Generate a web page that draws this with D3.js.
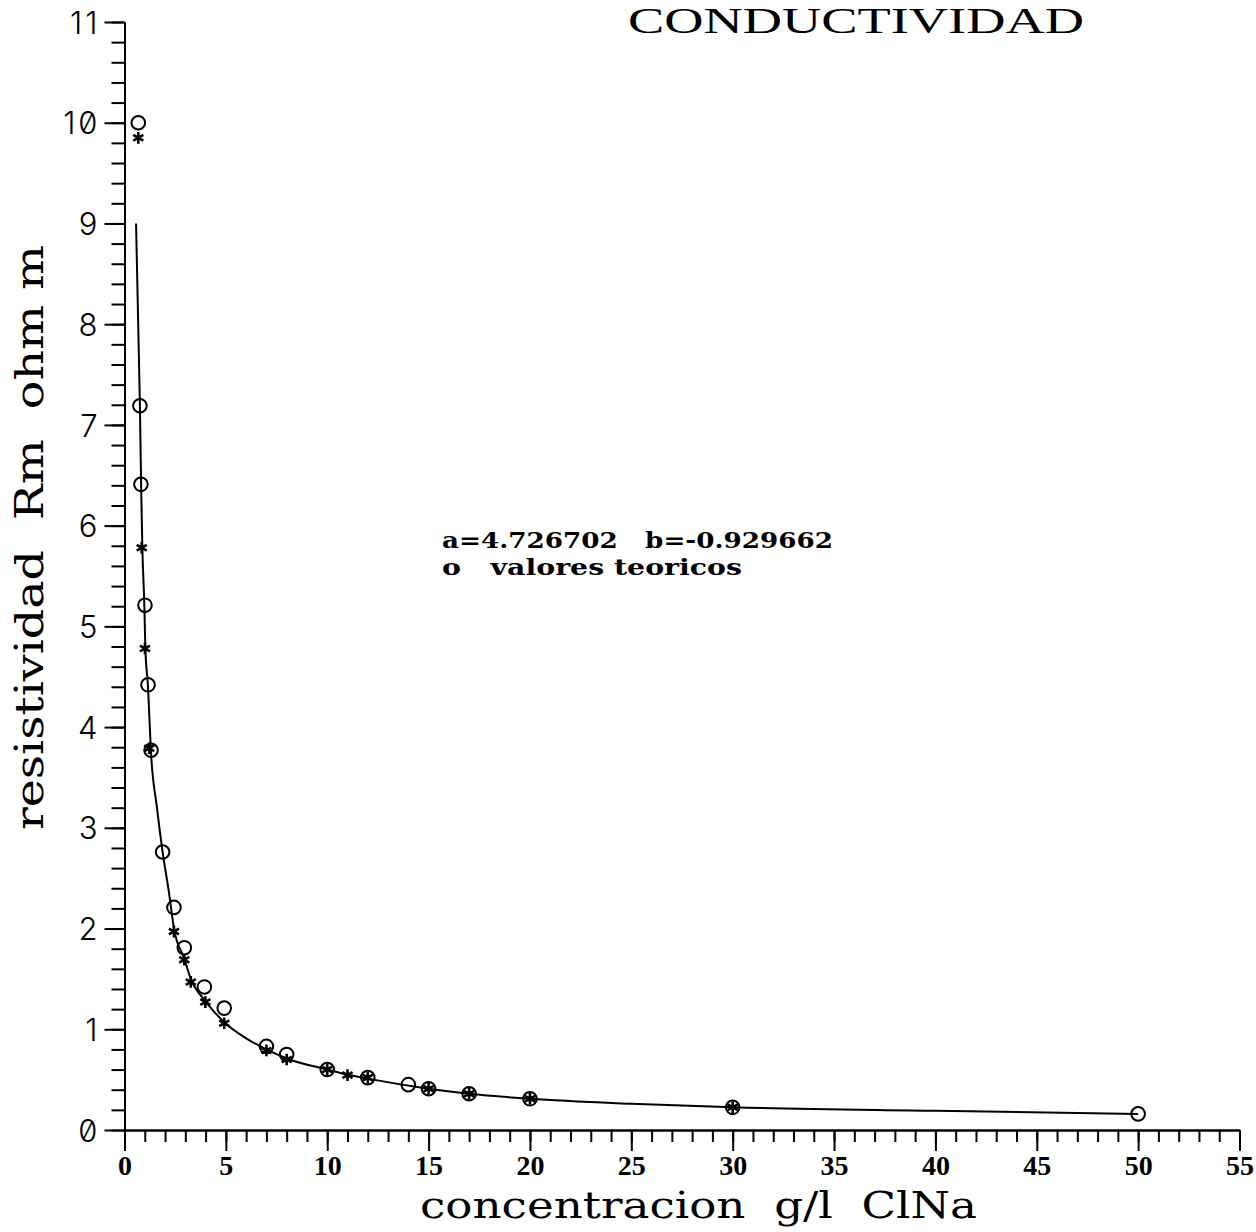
<!DOCTYPE html>
<html><head><meta charset="utf-8">
<script src="https://cdn.jsdelivr.net/npm/d3@7"></script>
<style>
html,body{margin:0;padding:0;background:#fff;}
svg{display:block;background:#fff;}
</style></head><body>
<svg id="chart" width="1256" height="1232"></svg>
<script>
// ---- texts ----
const titleText = "CONDUCTIVIDAD";
const xTitleText = "concentracion  g/l  ClNa";
const yTitleText = "resistividad  Rm  ohm m";
const noteLine1 = "a=4.726702   b=-0.929662";
const noteLine2 = "o   valores teoricos";

// ---- ticks ----
const xMajorTicks = [0, 5, 10, 15, 20, 25, 30, 35, 40, 45, 50, 55];
const xTickLabels = ["0", "5", "10", "15", "20", "25", "30", "35", "40", "45", "50", "55"];
const xMinorTicks = d3.range(0, 56, 1);
const yMajorTicks = [0, 1, 2, 3, 4, 5, 6, 7, 8, 9, 10, 11];
const yTickLabels = ["0", "1", "2", "3", "4", "5", "6", "7", "8", "9", "10", "11"];
const yMinorTicks = d3.range(0, 56, 1).map(i => i * 0.2);

// ---- data: theoretical values (circles) ----
const theoX = [0.68, 0.76, 0.81, 1.01, 1.16, 1.31, 1.88, 2.44, 2.95, 3.94, 4.92, 7, 8, 10, 12, 14, 15, 17, 20, 30, 50];
const theoY = [10.0, 7.19, 6.41, 5.21, 4.42, 3.77, 2.76, 2.21, 1.81, 1.42, 1.21, 0.83, 0.75, 0.60, 0.52, 0.45, 0.41, 0.36, 0.31, 0.225, 0.16];

// ---- data: measured values (stars) ----
const measX = [0.68, 0.85, 1.01, 1.22, 2.44, 2.95, 3.27, 3.99, 4.92, 7, 8, 10, 11, 12, 15, 17, 20, 30];
const measY = [9.85, 5.78, 4.78, 3.79, 1.97, 1.69, 1.47, 1.27, 1.06, 0.79, 0.70, 0.60, 0.545, 0.52, 0.41, 0.36, 0.31, 0.225];

// ---- data: fitted curve ----
const fitX = [0.57, 0.76, 0.82, 0.88, 0.98, 1.03, 1.16, 1.30, 1.60, 1.88, 2.20, 2.44, 2.95, 3.27, 3.99, 4.92, 6, 7, 8, 10, 11, 12, 15, 17, 20, 25, 30, 40, 50];
const fitY = [9.0, 7.2, 6.4, 5.78, 5.2, 4.78, 4.4, 3.77, 3.2, 2.76, 2.35, 2.0, 1.70, 1.5, 1.28, 1.07, 0.91, 0.80, 0.71, 0.60, 0.55, 0.51, 0.41, 0.36, 0.31, 0.26, 0.225, 0.19, 0.16];

const svg = d3.select("#chart");
svg.append("rect").attr("width", 1256).attr("height", 1232).attr("fill", "#fff");

const x = d3.scaleLinear().domain([0, 55]).range([124.5, 1239.5]);
const y = d3.scaleLinear().domain([0, 11]).range([1130, 22]);

const ink = "#000";

// ---- Y axis ----
const yAxisG = svg.append("g").attr("transform", `translate(${x(0)},0)`);
yAxisG.call(d3.axisLeft(y).tickValues(yMinorTicks).tickSize(13).tickSizeOuter(0).tickFormat(""));
yAxisG.append("g").call(d3.axisLeft(y).tickValues(yMajorTicks).tickSize(20).tickSizeOuter(0).tickPadding(4)
  .tickFormat((d, i) => yTickLabels[i]));
yAxisG.selectAll("path.domain").attr("stroke", ink).attr("stroke-width", 2);
yAxisG.selectAll(".tick line").attr("stroke", ink).attr("stroke-width", 2);
yAxisG.selectAll(".tick text")
  .attr("fill", ink)
  .attr("font-family", "Inter, 'DejaVu Sans', sans-serif")
  .attr("font-weight", 300)
  .attr("font-size", 31)
  .attr("letter-spacing", 3)
  .style("font-feature-settings", "'zero' 1")
  .attr("dy", "0.36em");

// ---- X axis ----
const xAxisG = svg.append("g").attr("transform", `translate(0,${y(0)})`);
xAxisG.call(d3.axisBottom(x).tickValues(xMinorTicks).tickSize(12).tickSizeOuter(0).tickFormat(""));
xAxisG.append("g").call(d3.axisBottom(x).tickValues(xMajorTicks).tickSize(21).tickSizeOuter(0).tickPadding(4)
  .tickFormat((d, i) => xTickLabels[i]));
xAxisG.selectAll("path.domain").attr("stroke", ink).attr("stroke-width", 2);
xAxisG.selectAll(".tick line").attr("stroke", ink).attr("stroke-width", 2);
xAxisG.selectAll(".tick text")
  .attr("fill", ink)
  .attr("font-family", "'Liberation Serif', 'DejaVu Serif', serif")
  .attr("font-weight", "bold")
  .attr("font-size", 28)
  .attr("dy", "0.72em");

// ---- fitted curve ----
const fitPts = fitX.map((v, i) => [v, fitY[i]]);
svg.append("path")
  .datum(fitPts)
  .attr("fill", "none")
  .attr("stroke", ink)
  .attr("stroke-width", 2)
  .attr("d", d3.line().x(d => x(d[0])).y(d => y(d[1])).curve(d3.curveMonotoneX));

// ---- theoretical circles ----
const theoPts = theoX.map((v, i) => [v, theoY[i]]);
svg.append("g").selectAll("circle").data(theoPts).join("circle")
  .attr("cx", d => x(d[0])).attr("cy", d => y(d[1]))
  .attr("r", 6.8)
  .attr("fill", "none").attr("stroke", ink).attr("stroke-width", 2);

// ---- measured stars ----
const measPts = measX.map((v, i) => [v, measY[i]]);
const star = d3.symbol().type(d3.symbolAsterisk).size(95);
svg.append("g").selectAll("path").data(measPts).join("path")
  .attr("transform", d => `translate(${x(d[0])},${y(d[1])})`)
  .attr("d", star)
  .attr("fill", "none").attr("stroke", ink).attr("stroke-width", 2.6);

// ---- titles ----
svg.append("text")
  .attr("x", 628).attr("y", 33)
  .attr("font-family", "'Liberation Serif', 'DejaVu Serif', serif")
  .attr("font-size", 36)
  .attr("fill", ink)
  .attr("textLength", 456).attr("lengthAdjust", "spacingAndGlyphs")
  .text(titleText);

svg.append("text")
  .attr("x", 420).attr("y", 1218)
  .attr("font-family", "'DejaVu Serif', 'Liberation Serif', serif")
  .attr("font-size", 38)
  .attr("fill", ink)
  .style("white-space", "pre")
  .attr("textLength", 557).attr("lengthAdjust", "spacingAndGlyphs")
  .text(xTitleText);

svg.append("text")
  .attr("transform", "translate(43,830) rotate(-90)")
  .attr("x", 0).attr("y", 0)
  .attr("font-family", "'DejaVu Serif', 'Liberation Serif', serif")
  .attr("font-size", 40)
  .attr("fill", ink)
  .style("white-space", "pre")
  .attr("textLength", 585).attr("lengthAdjust", "spacingAndGlyphs")
  .text(yTitleText);

// ---- annotation ----
svg.append("text")
  .attr("x", 442).attr("y", 548)
  .attr("font-family", "'DejaVu Serif', 'Liberation Serif', serif")
  .attr("font-weight", "bold")
  .attr("font-size", 22)
  .attr("fill", ink)
  .style("white-space", "pre")
  .attr("textLength", 391).attr("lengthAdjust", "spacingAndGlyphs")
  .text(noteLine1);
svg.append("text")
  .attr("x", 442).attr("y", 575)
  .attr("font-family", "'DejaVu Serif', 'Liberation Serif', serif")
  .attr("font-weight", "bold")
  .attr("font-size", 22)
  .attr("fill", ink)
  .style("white-space", "pre")
  .attr("textLength", 300).attr("lengthAdjust", "spacingAndGlyphs")
  .text(noteLine2);
</script>
</body></html>
